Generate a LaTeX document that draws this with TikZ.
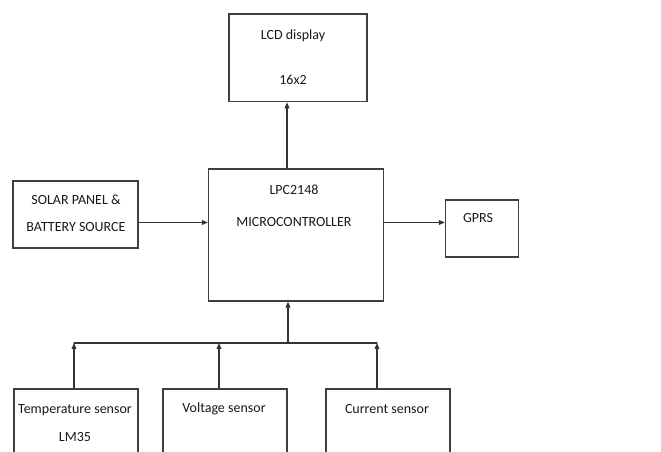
\documentclass[tikz,border=0pt]{standalone}
\usepackage{fontspec}
\setmainfont{Carlito}
\usetikzlibrary{arrows.meta}

\begin{document}
\begin{tikzpicture}[x=0.75pt,y=-0.75pt,>={Triangle[length=4.5pt,width=3.6pt]},font=\fontsize{10.5}{12}\selectfont,line cap=round,
  blk/.style={draw=black!75,line width=1pt,inner sep=0pt},
  txt/.style={align=center,text=black!90,inner sep=0pt},
  wire/.style={draw=black!80,line width=0.8pt}]
\useasboundingbox (0,0) rectangle (661,452);
% blocks
\node[blk,minimum width=103.5pt,minimum height=65.8pt] (lcd) at (298,57.8) {};
\node[blk,minimum width=131.25pt,minimum height=99pt] (mcu) at (296,235) {};
\node[blk,minimum width=93.75pt,minimum height=50.25pt] (solar) at (75.5,214.5) {};
\node[blk,minimum width=54.75pt,minimum height=42.75pt] (gprs) at (482,228.5) {};
\node[blk,minimum width=93pt,minimum height=90pt] (temp) at (76,449) {};
\node[blk,minimum width=93pt,minimum height=90pt] (volt) at (225,449) {};
\node[blk,minimum width=93pt,minimum height=90pt] (curr) at (388,449) {};
% texts
\node[txt] (lcdtxt) at (293,57.5) {LCD display\\[21.75pt]16x2};
\node[txt] (mcutxt) at (294,206) {LPC2148\\[12pt]MICROCONTROLLER};
\node[txt] (solartxt) at (76,213.5) {SOLAR PANEL \&\\[8.25pt]BATTERY SOURCE};
\node[txt] (gprstxt) at (478,218) {GPRS};
\node[txt] (temptxt) at (75,423) {Temperature sensor\\[9pt]LM35};
\node[txt] (volttxt) at (224,409) {Voltage sensor};
\node[txt] (currtxt) at (387,409) {Current sensor};
% links
\draw[wire,->] ([xshift=-6.75pt]mcu.north) coordinate (m1) -- (m1 |- lcd.south);
\draw[wire,->] ([yshift=-6pt]solar.east) coordinate (s1) -- (s1 -| mcu.west);
\draw[wire,->] (s1 -| mcu.east) -- (s1 -| gprs.west);
% sensor bus
\coordinate (bus) at (288,343);
\draw[wire,->] (bus) -- (bus |- mcu.south);
\draw[wire,->] ([xshift=-1.5pt]temp.north) coordinate (t1) -- (t1 |- bus);
\draw[wire,->] ([xshift=-4.5pt]volt.north) coordinate (v1) -- (v1 |- bus);
\draw[wire,->] ([xshift=-8.25pt]curr.north) coordinate (c1) -- (c1 |- bus);
\draw[wire] (t1 |- bus) -- (c1 |- bus);
\end{tikzpicture}
\end{document}
